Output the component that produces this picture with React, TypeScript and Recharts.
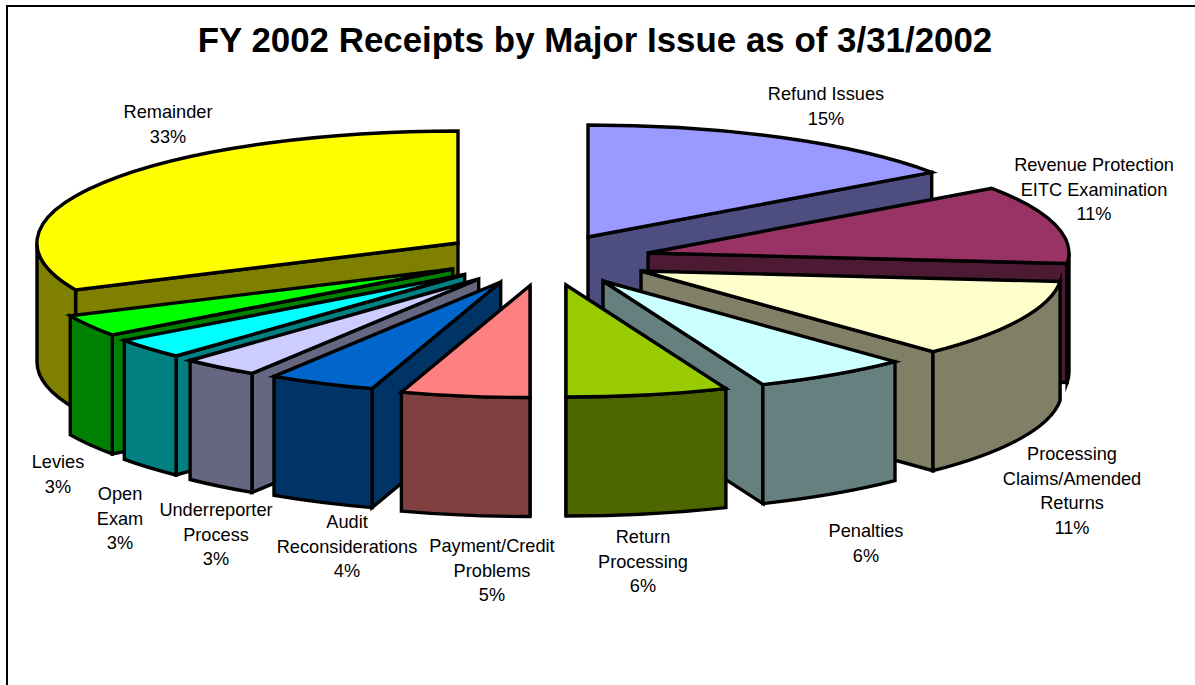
import React from 'react'
import { PieChart, Pie } from 'recharts'

// percentages: the slice geometry is a little off the printed labels
const rightNames = ['Refund Issues', 'Revenue Protection EITC Examination', 'Processing Claims/Amended Returns', 'Penalties', 'Return Processing']
const rightShares = [15.2, 11.3, 11.3, 6.0, 6.2]
const rightPercents = ['15%', '11%', '11%', '6%', '6%']

// left half runs from 12 o'clock backwards so the front slices are painted last
const leftNames = ['Remainder', 'Levies', 'Open Exam', 'Underreporter Process', 'Audit Reconsiderations', 'Payment/Credit Problems']
const leftShares = [31.87, 3.14, 2.97, 2.97, 4.11, 4.94]
const leftPercents = ['33%', '3%', '3%', '3%', '4%', '5%']

const W = 1195
const H = 685
const CX = 520
const CY = 260
const RX = 421
const RY = 112
const DEPTH = 119

const sliceStyle: Record<string, { top: string; side: string; apex: [number, number] }> = {
  'Refund Issues': { top: '#9999FF', side: '#4D4D80', apex: [588, 237] },
  'Revenue Protection EITC Examination': { top: '#993366', side: '#4D1A33', apex: [648, 253] },
  'Processing Claims/Amended Returns': { top: '#FFFFCC', side: '#808066', apex: [641, 271] },
  Penalties: { top: '#CCFFFF', side: '#668080', apex: [603, 281] },
  'Return Processing': { top: '#99CC00', side: '#4D6600', apex: [566, 285] },
  'Payment/Credit Problems': { top: '#FF8080', side: '#804040', apex: [530, 285.5] },
  'Audit Reconsiderations': { top: '#0066CC', side: '#003366', apex: [500.7, 282] },
  'Underreporter Process': { top: '#CCCCFF', side: '#666680', apex: [478.7, 279] },
  'Open Exam': { top: '#00FFFF', side: '#008080', apex: [464.7, 274.5] },
  Levies: { top: '#00FF00', side: '#008000', apex: [452.7, 269] },
  Remainder: { top: '#FFFF00', side: '#808000', apex: [458, 243] },
}

const labelStyle: Record<string, { x: number; y: number; lines: string[] }> = {
  'Refund Issues': { x: 826, y: 100, lines: ['Refund Issues'] },
  'Revenue Protection EITC Examination': { x: 1094, y: 171, lines: ['Revenue Protection', 'EITC Examination'] },
  'Processing Claims/Amended Returns': { x: 1072, y: 460, lines: ['Processing', 'Claims/Amended', 'Returns'] },
  Penalties: { x: 866, y: 537, lines: ['Penalties'] },
  'Return Processing': { x: 643, y: 543, lines: ['Return', 'Processing'] },
  'Payment/Credit Problems': { x: 492, y: 552, lines: ['Payment/Credit', 'Problems'] },
  'Audit Reconsiderations': { x: 347, y: 528, lines: ['Audit', 'Reconsiderations'] },
  'Underreporter Process': { x: 216, y: 516, lines: ['Underreporter', 'Process'] },
  'Open Exam': { x: 120, y: 500, lines: ['Open', 'Exam'] },
  Levies: { x: 58, y: 468, lines: ['Levies'] },
  Remainder: { x: 168, y: 118, lines: ['Remainder'] },
}

const toTable = (names: string[], shares: number[], percents: string[]) =>
  names.map((name, i) => ({ name, share: shares[i], percent: percents[i] }))

const rightData = toTable(rightNames, rightShares, rightPercents)
const leftData = toTable(leftNames, leftShares, leftPercents)

const RAD = Math.PI / 180

// flat recharts sector -> tilted, exploded 3D wedge
function Wedge3D(props: any) {
  const style = sliceStyle[props.name ?? props.payload?.name]
  const [ax, ay] = style.apex
  // angles as clockwise degrees from 12 o'clock, left half wrapped to 180..360
  let a = 90 - props.startAngle
  let b = 90 - props.endAngle
  if (a < 0 || b < 0) {
    a += 360
    b += 360
  }
  const from = Math.min(a, b)
  const to = Math.max(a, b)
  const rim = (deg: number, drop = 0): [number, number] => [
    ax + RX * Math.sin(deg * RAD),
    ay - RY * Math.cos(deg * RAD) + drop,
  ]
  const nf = (p: [number, number]) => `${p[0].toFixed(1)} ${p[1].toFixed(1)}`
  const arc = `A ${RX} ${RY} 0 0`
  const common = { stroke: '#000', strokeWidth: 3.4, strokeLinejoin: 'miter' as const, strokeMiterlimit: 6 }

  // the cut face turned towards the viewer
  const cutAngle = to <= 180 ? to : from
  const cut = rim(cutAngle)
  const cutPath = `M ${ax} ${ay} L ${nf(cut)} L ${nf(rim(cutAngle, DEPTH))} L ${ax} ${ay + DEPTH} Z`

  const wallFrom = Math.max(from, 90)
  const wallTo = Math.min(to, 270)
  const hasWall = wallTo > wallFrom
  const wallPath = hasWall
    ? `M ${nf(rim(wallFrom))} ${arc} 1 ${nf(rim(wallTo))} L ${nf(rim(wallTo, DEPTH))} ${arc} 0 ${nf(rim(wallFrom, DEPTH))} Z`
    : ''
  const topPath = `M ${ax} ${ay} L ${nf(rim(from))} ${arc} 1 ${nf(rim(to))} Z`

  return (
    <g>
      <path d={cutPath} fill={style.side} {...common} />
      {hasWall && <path d={wallPath} fill={style.side} {...common} />}
      <path d={topPath} fill={style.top} {...common} />
    </g>
  )
}

function SliceLabel(props: any) {
  const item = props.payload ?? props
  const spot = labelStyle[props.name ?? item.name]
  const lines = [...spot.lines, item.percent]
  return (
    <text x={spot.x} y={spot.y} textAnchor="middle" fontSize={18.2} fill="#000" fontFamily="Liberation Sans">
      {lines.map((line: string, i: number) => (
        <tspan key={i} x={spot.x} dy={i === 0 ? 0 : 24.5}>
          {line}
        </tspan>
      ))}
    </text>
  )
}

export default function App() {
  return (
    <div style={{ position: 'absolute', left: 0, top: 0, width: W, height: H, overflow: 'hidden', background: '#fff' }}>
      <div style={{ position: 'absolute', left: 6, top: 5, right: -10, bottom: -10, borderLeft: '2px solid #000', borderTop: '2px solid #000' }} />
      <div
        style={{
          position: 'absolute',
          left: 0,
          width: 1190,
          top: 19,
          textAlign: 'center',
          fontFamily: 'Liberation Sans',
          fontWeight: 700,
          fontSize: 34.9,
          lineHeight: '42px',
        }}
      >
        FY 2002 Receipts by Major Issue as of 3/31/2002
      </div>
      <div style={{ position: 'absolute', left: 0, top: 0 }}>
        <PieChart width={W} height={H} margin={{ top: 0, right: 0, bottom: 0, left: 0 }}>
          <Pie
            data={rightData}
            dataKey="share"
            nameKey="name"
            cx={CX}
            cy={CY}
            innerRadius={0}
            outerRadius={RX}
            startAngle={90}
            endAngle={-90}
            paddingAngle={0}
            shape={Wedge3D}
            label={SliceLabel}
            labelLine={false}
            isAnimationActive={false}
          />
          <Pie
            data={leftData}
            dataKey="share"
            nameKey="name"
            cx={CX}
            cy={CY}
            innerRadius={0}
            outerRadius={RX}
            startAngle={90}
            endAngle={270}
            paddingAngle={0}
            shape={Wedge3D}
            label={SliceLabel}
            labelLine={false}
            isAnimationActive={false}
          />
        </PieChart>
      </div>
    </div>
  )
}
